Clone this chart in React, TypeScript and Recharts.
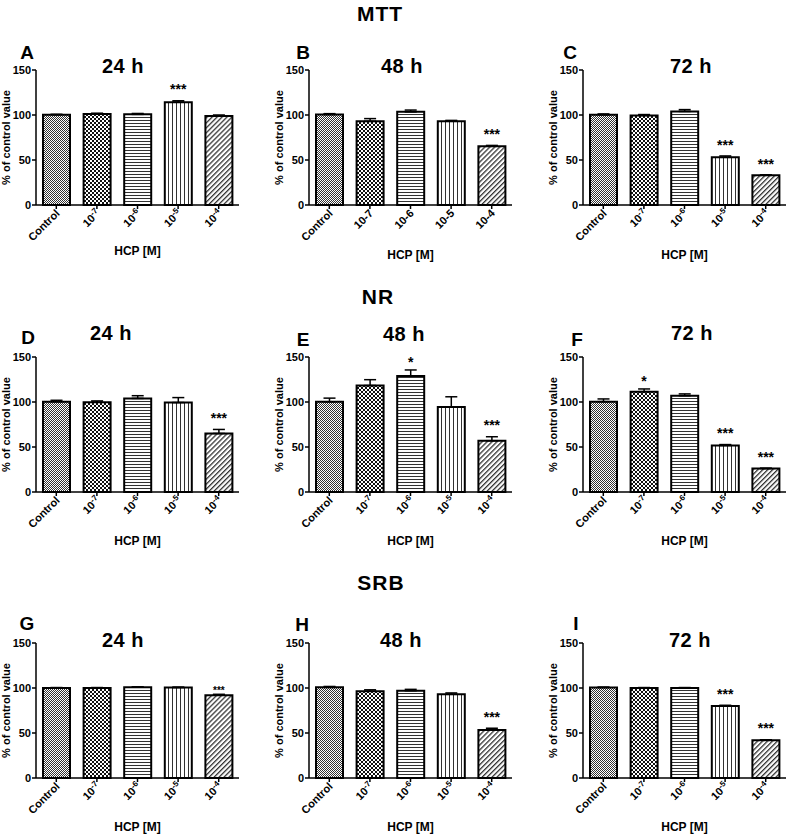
import React from "react";
import { BarChart, Bar, XAxis, YAxis, ErrorBar, LabelList, Cell } from "recharts";

const FONT = '"Liberation Sans", Arial, sans-serif';

const categories = ["Control", "10-7", "10-6", "10-5", "10-4"];
const yTicks = [0, 50, 100, 150];

// MTT
const mtt24 = [100.3, 101, 100.7, 114.3, 99];
const mtt24Err = [0.5, 1, 1, 1.5, 1];
const mtt24Sig = ["", "", "", "***", ""];
const mtt48 = [100.5, 93, 103.5, 93, 65.2];
const mtt48Err = [1, 3, 2, 1, 1];
const mtt48Sig = ["", "", "", "", "***"];
const mtt72 = [100.2, 99.5, 104, 53, 33];
const mtt72Err = [1, 1, 2, 1.5, 0.5];
const mtt72Sig = ["", "", "", "***", "***"];

// NR
const nr24 = [100.4, 99.7, 104, 99.4, 65];
const nr24Err = [1.5, 1.5, 3, 5.5, 4.5];
const nr24Sig = ["", "", "", "", "***"];
const nr48 = [100.3, 118.3, 129, 94.4, 57];
const nr48Err = [4, 6.5, 6.6, 11.4, 4.4];
const nr48Sig = ["", "", "*", "", "***"];
const nr72 = [100.4, 111.5, 107, 51.7, 26];
const nr72Err = [3, 3, 2, 1, 0.5];
const nr72Sig = ["", "*", "", "***", "***"];

// SRB
const srb24 = [100, 100, 100.8, 100.5, 92];
const srb24Err = [0.5, 0.5, 0.5, 0.5, 1];
const srb24Sig = ["", "", "", "", "***"];
const srb48 = [100.7, 96.5, 97, 93, 53.3];
const srb48Err = [1, 1.5, 1.5, 1.5, 2];
const srb48Sig = ["", "", "", "", "***"];
const srb72 = [100.5, 100, 100, 80, 42];
const srb72Err = [0.5, 0.5, 0.5, 0.8, 0.5];
const srb72Sig = ["", "", "", "***", "***"];

const assayTitles = ["MTT", "NR", "SRB"];

// layout
const colX = [36, 309, 583];
const rowTop = [70, 357, 643];
const PLOT_W = 203;
const PLOT_H = 135;

const panels = [
  { letter: "A", time: "24 h", values: mtt24, errs: mtt24Err, sig: mtt24Sig, col: 0, row: 0, sup: true, xh: 50, lp: [27, 53], tp: [123, 66] },
  { letter: "B", time: "48 h", values: mtt48, errs: mtt48Err, sig: mtt48Sig, col: 1, row: 0, sup: false, xh: 54, lp: [303, 53], tp: [402, 66] },
  { letter: "C", time: "72 h", values: mtt72, errs: mtt72Err, sig: mtt72Sig, col: 2, row: 0, sup: true, xh: 54, lp: [570, 53], tp: [691, 66] },
  { letter: "D", time: "24 h", values: nr24, errs: nr24Err, sig: nr24Sig, col: 0, row: 1, sup: true, xh: 53, lp: [28, 338], tp: [111, 333] },
  { letter: "E", time: "48 h", values: nr48, errs: nr48Err, sig: nr48Sig, col: 1, row: 1, sup: true, xh: 53, lp: [303, 340], tp: [404, 334] },
  { letter: "F", time: "72 h", values: nr72, errs: nr72Err, sig: nr72Sig, col: 2, row: 1, sup: true, xh: 53, lp: [577, 340], tp: [692, 333] },
  { letter: "G", time: "24 h", values: srb24, errs: srb24Err, sig: srb24Sig, col: 0, row: 2, sup: true, xh: 53, lp: [27, 624], tp: [123, 640], small: true },
  { letter: "H", time: "48 h", values: srb48, errs: srb48Err, sig: srb48Sig, col: 1, row: 2, sup: true, xh: 53, lp: [302, 625], tp: [401, 640] },
  { letter: "I", time: "72 h", values: srb72, errs: srb72Err, sig: srb72Sig, col: 2, row: 2, sup: true, xh: 53, lp: [576, 624], tp: [690, 640] },
];

function Txt({ x, y, size, children, spacing = 0 }: any) {
  return (
    <div
      style={{
        position: "absolute",
        left: x,
        top: y,
        transform: "translate(-50%, -50%)",
        fontFamily: FONT,
        fontWeight: "bold",
        fontSize: size,
        lineHeight: 1.2,
        letterSpacing: spacing,
        whiteSpace: "nowrap",
        color: "#000",
      }}
    >
      {children}
    </div>
  );
}

function CatTick(props: any) {
  const { x, y, payload, sup } = props;
  const label: string = payload.value;
  const isConc = label !== "Control";
  return (
    <text
      transform={`translate(${x + 4},${y + 3}) rotate(-45)`}
      textAnchor="end"
      fill="#000"
      fontSize={11}
      fontWeight="bold"
      fontFamily={FONT}
    >
      {sup && isConc ? (
        <>
          10
          <tspan dy={-4} fontSize={8}>
            {label.slice(2)}
          </tspan>
        </>
      ) : (
        label
      )}
    </text>
  );
}

function Patterns() {
  return (
    <svg width={0} height={0} style={{ position: "absolute" }}>
      <defs>
        <pattern id="pat0" width={2} height={2} patternUnits="userSpaceOnUse">
          <rect width={2} height={2} fill="#fff" />
          <rect width={1} height={1} fill="#333" />
          <rect x={1} y={1} width={1} height={1} fill="#333" />
        </pattern>
        <pattern id="pat1" width={4} height={4} patternUnits="userSpaceOnUse">
          <rect width={4} height={4} fill="#fff" />
          <rect width={2} height={2} fill="#111" />
          <rect x={2} y={2} width={2} height={2} fill="#111" />
        </pattern>
        <pattern id="pat2" width={4} height={3} patternUnits="userSpaceOnUse">
          <rect width={4} height={3} fill="#fff" />
          <rect width={4} height={1} fill="#333" />
        </pattern>
        <pattern id="pat3" width={4} height={4} patternUnits="userSpaceOnUse">
          <rect width={4} height={4} fill="#fff" />
          <rect width={1} height={4} fill="#333" />
        </pattern>
        <pattern id="pat4" width={3.5} height={4} patternUnits="userSpaceOnUse" patternTransform="rotate(45)">
          <rect width={3.5} height={4} fill="#fff" />
          <rect width={1.3} height={4} fill="#333" />
        </pattern>
      </defs>
    </svg>
  );
}

function Panel({ p }: any) {
  const data = categories.map((c, i) => ({ cat: c, v: p.values[i], err: [0, p.errs[i]] }));
  const mTop = 10;
  const w = 40 + PLOT_W + 4;
  const h = mTop + PLOT_H + p.xh + 4;
  const fs = p.small ? 10 : 14;

  const stars = (props: any) => {
    const vb = props.viewBox || {};
    const x = Number(props.x ?? vb.x);
    const y = Number(props.y ?? vb.y);
    const bw = Number(props.width ?? vb.width);
    const bh = Math.abs(Number(props.height ?? vb.height));
    const i = props.index;
    const s = p.sig[i];
    if (!s) return null;
    const errTop = y - p.errs[i] * (bh / p.values[i]);
    const gap = p.small ? 6 : s.length === 1 ? 11 : 14;
    return (
      <text
        x={x + bw / 2}
        y={errTop - gap + 0.55 * fs}
        textAnchor="middle"
        fill="#000"
        fontSize={fs}
        fontWeight="bold"
        fontFamily={FONT}
      >
        {s}
      </text>
    );
  };

  return (
    <div style={{ position: "absolute", left: colX[p.col] - 40, top: rowTop[p.row] - mTop }}>
      <BarChart width={w} height={h} data={data} margin={{ top: mTop, right: 4, bottom: 4, left: 0 }} barSize={27}>
        <XAxis
          dataKey="cat"
          height={p.xh}
          interval={0}
          tick={<CatTick sup={p.sup} />}
          tickSize={4}
          axisLine={{ stroke: "#000", strokeWidth: 1.5 }}
          tickLine={{ stroke: "#000", strokeWidth: 1.5 }}
          label={{
            value: "HCP [M]",
            position: "insideBottom",
            offset: 0,
            fill: "#000",
            fontSize: 12,
            fontWeight: "bold",
            fontFamily: FONT,
          }}
        />
        <YAxis
          width={40}
          domain={[0, 150]}
          ticks={yTicks}
          interval={0}
          tickSize={4}
          tickMargin={1}
          axisLine={{ stroke: "#000", strokeWidth: 1.5 }}
          tickLine={{ stroke: "#000", strokeWidth: 1.5 }}
          tick={{ fill: "#000", fontSize: 11, fontWeight: "bold", fontFamily: FONT }}
          label={{
            value: "% of control value",
            angle: -90,
            position: "insideLeft",
            offset: 10,
            fill: "#000",
            fontSize: 11,
            fontWeight: "bold",
            fontFamily: FONT,
            style: { textAnchor: "middle" },
          }}
        />
        <Bar dataKey="v" isAnimationActive={false} stroke="#000" strokeWidth={2}>
          {data.map((d, i) => (
            <Cell key={d.cat} fill={`url(#pat${i})`} stroke="#000" strokeWidth={2} />
          ))}
          <ErrorBar dataKey="err" direction="y" width={6} stroke="#000" strokeWidth={1.5} />
          <LabelList dataKey="v" content={stars} />
        </Bar>
      </BarChart>
    </div>
  );
}

export default function App() {
  return (
    <div style={{ position: "absolute", left: 0, top: 0, width: 787, height: 836, background: "#fff" }}>
      <Patterns />
      <Txt x={380} y={14} size={21} spacing={1}>{assayTitles[0]}</Txt>
      <Txt x={378} y={297} size={21} spacing={1}>{assayTitles[1]}</Txt>
      <Txt x={381} y={583} size={21} spacing={1}>{assayTitles[2]}</Txt>
      {panels.map((p) => (
        <React.Fragment key={p.letter}>
          <Txt x={p.lp[0]} y={p.lp[1]} size={19}>{p.letter}</Txt>
          <Txt x={p.tp[0]} y={p.tp[1]} size={20} spacing={0.5}>{p.time}</Txt>
          <Panel p={p} />
        </React.Fragment>
      ))}
    </div>
  );
}
